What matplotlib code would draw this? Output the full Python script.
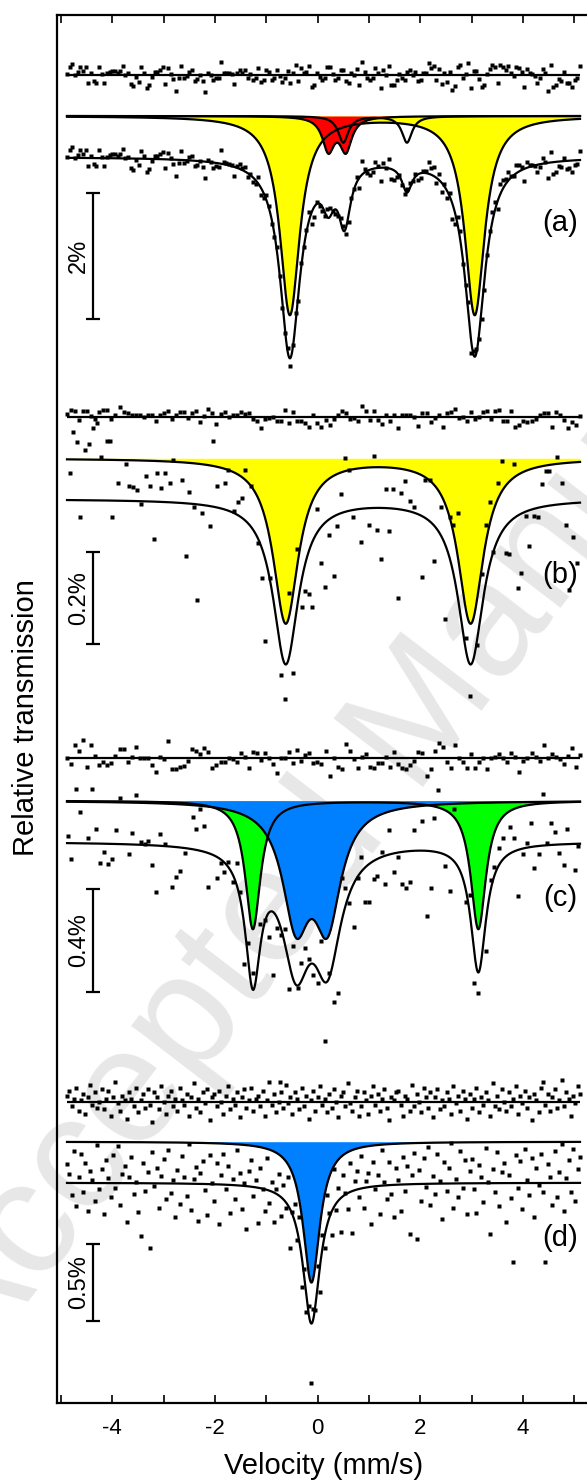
import numpy as np
import matplotlib.pyplot as plt

plt.rcParams['font.family'] = ['Liberation Sans', 'DejaVu Sans']
plt.rcParams['axes.unicode_minus'] = False

# velocity span of the channels (mm/s)
v_lo, v_hi = -4.88, 5.11

# fitted sub-spectra: (centre mm/s, depth %, HWHM mm/s)
a_yellow = [(-0.54, 3.15, 0.235), (3.06, 3.15, 0.235)]
a_red = [(0.21, 0.525, 0.14), (0.55, 0.525, 0.14)]
a_open = [(0.50, 0.42, 0.12), (1.74, 0.42, 0.12)]
b_yellow = [(-0.62, 0.355, 0.30), (2.98, 0.355, 0.30)]
c_green = [(-1.26, 0.50, 0.18), (3.13, 0.50, 0.18)]
c_blue = [(-0.42, 0.44, 0.32), (0.19, 0.44, 0.32)]
d_blue = [(-0.12, 0.915, 0.20)]

bar_pct = [2, 0.2, 0.4, 0.5]
bar_text = ['2%', '0.2%', '0.4%', '0.5%']
tags = ['(a)', '(b)', '(c)', '(d)']

# (a) residuals, units of 0.001 %  (spectrum = fit + residual)
res_a = [16, 132, 175, 0, 53, 122, 69, 132, -122, 37, -95, -132, 122, 16, -122, 26,
         53, 69, 69, 37, 69, 143, 0, 26, -143, -175, -26, -106, 122, 37, -212, -159,
         -26, 53, 53, 79, 122, -143, 106, 16, -69, -254, -53, 148, -53, -16, 53, 79,
         -90, -69, 0, -90, -265, 37, 0, -79, -53, -53, 212, 37, 26, 26, 16, -143,
         37, 79, 26,
         79, -53, 20, -79, -53, 110, -106, -79, 79, 40, -79, -53, 79, -20, -106, -53,
         60, -132, 26, 159, -90, 106, 26, 53, 140, -185, -159, 26, -30, -79, -53, 132,
         132, 10, -79, -53, 79, 79, -100, -132, 26, 0, 90, -159, 212, 53, -40, -79,
         -53, 106, 30, -212, 79, 0, 150, -159, -159, -79, 20, -53, -79, 53, 79, 0,
         53, -90, -79, 37, 26, 185, 106, 143, -79, 90, -143, 37, -106, 53, -238, -175,
         132, 159, -53, 16, 185, -212, 69, 69, -69, -185, -159, 16, 90, 159, 122, -122,
         159, 132, 79, 143, 26, -16, 132, 106, 53, -196, 90, 26, 16, -16, -122, -53,
         90, 26, -249, 159, -185, -159, -69, -90, 53, -122, -122, -185, -79, -53, 143]

# (b) measured points: velocity (mm/s), relative transmission (%)
vel_b = [-4.83, -4.76, -4.69, -4.62, -4.52, -4.45, -4.37, -4.29, -4.21, -4.11,
         -4.05, -4.00, -3.89, -3.74, -3.67, -3.59, -3.52, -3.43, -3.35, -3.27,
         -3.19, -3.12, -3.05, -2.98, -2.87, -2.81, -2.65, -2.57, -2.50, -2.41,
         -2.34, -2.26, -2.10, -2.03, -1.96, -1.81, -1.74, -1.63, -1.55, -1.48,
         -1.41, -1.30, -1.17, -1.09, -1.02, -0.93, -0.71, -0.63, -0.55, -0.48,
         -0.40, -0.31, -0.24, -0.17, -0.10, -0.01, 0.07, 0.15, 0.22, 0.31,
         0.38, 0.45, 0.54, 0.61, 0.69, 0.85, 1.00, 1.09, 1.16, 1.24,
         1.33, 1.40, 1.47, 1.56, 1.63, 1.71, 1.80, 1.87, 2.03, 2.09,
         2.18, 2.26, 2.41, 2.49, 2.57, 2.64, 2.73, 2.89, 2.97, 3.11,
         3.20, 3.27, 3.35, 3.42, 3.51, 3.59, 3.66, 3.73, 3.82, 3.90,
         3.97, 4.05, 4.12, 4.21, 4.29, 4.37, 4.44, 4.51, 4.67, 4.75,
         4.83, 4.90, 4.97, 5.05]
trans_b = [0.056, 0.145, 0.124, -0.038, 0.106, 0.119, 0.153, 0.164, 0.091, 0.126,
           0.125, -0.038, 0.035, 0.076, 0.027, 0.026, 0.019, -0.011, 0.050, 0.028,
           -0.086, 0.056, 0.024, 0.056, 0.035, 0.084, 0.041, -0.123, 0.016, -0.017,
           -0.218, -0.030, -0.058, 0.125, 0.027, 0.035, 0.063, -0.025, -0.006, 0.002,
           0.063, 0.027, -0.094, -0.171, -0.306, -0.171, -0.380, -0.432, -0.202, -0.376,
           -0.108, -0.233, -0.199, -0.205, -0.233, -0.022, -0.138, -0.190, -0.078, -0.166,
           -0.058, 0.011, 0.089, 0.063, -0.038, -0.092, -0.056, 0.093, -0.068, -0.130,
           0.022, -0.069, 0.022, -0.214, 0.014, 0.039, -0.004, -0.017, -0.168, 0.041,
           0.041, -0.133, -0.017, -0.259, -0.038, -0.056, -0.030, -0.300, -0.425, -0.315,
           -0.162, -0.056, -0.006, -0.114, 0.035, 0.081, -0.116, -0.119, 0.076, -0.192,
           -0.160, -0.037, -0.102, -0.037, -0.038, 0.032, 0.060, 0.060, 0.091, 0.035,
           -0.056, -0.197, -0.081, -0.138]
res_b = [7, 16, 14, -6, 14, 14, 3, -4, 11, 16, 16, -4, 4, 23, 11, 9, 4, 4, 4, 0,
         6, 4, -8, 5, 10, 13, -3, 6, 11, 12, -2, 9, 14, -10, 3, 18, 10, -14, 7, 12,
         0, 4, 5, 12, 7, 9, -4, -9, -24, -4, -1, 1, -7, -8, 16, -13, 12, -9, -9, -13,
         -20, 4, -12, -20, -6, -16, -4, 4, 14, 9, -4, -1, -9, 24, 14, -6, 14, -6, -15, 4,
         -8, 4, -24, 4, 6, 4, 1, -18, 9, 9, -11, -1, 5, -22, 9, 11, 19, -1, 1, -8,
         11, -4, 1, 12, 14, -4, 14, 16, -8, -9, 14, -20, -17, -9, -11, -8, -4, 5, 9, 9,
         -22, 12, 4, -6, -24, -11, -17, 3]

# (c) measured points
vel_c = [-4.87, -4.80, -4.70, -4.62, -4.48, -4.40, -4.32, -4.23, -4.15, -4.09,
         -4.01, -3.92, -3.85, -3.68, -3.61, -3.53, -3.44, -3.37, -3.30, -3.22,
         -3.14, -3.06, -2.98, -2.84, -2.76, -2.68, -2.59, -2.43, -2.37, -2.29,
         -2.21, -2.13, -1.96, -1.89, -1.82, -1.74, -1.65, -1.57, -1.51, -1.43,
         -1.35, -1.26, -1.12, -1.02, -0.94, -0.87, -0.79, -0.73, -0.72, -0.63,
         -0.56, -0.47, -0.39, -0.32, -0.24, -0.17, -0.08, 0.00, 0.07, 0.15,
         0.23, 0.31, 0.39, 0.47, 0.54, 0.62, 0.70, 0.78, 0.85, 0.93,
         1.01, 1.09, 1.16, 1.25, 1.32, 1.40, 1.48, 1.56, 1.64, 1.72,
         1.79, 1.87, 2.04, 2.13, 2.20, 2.27, 2.35, 2.49, 2.57, 2.66,
         2.89, 2.97, 3.04, 3.13, 3.28, 3.37, 3.44, 3.54, 3.62, 3.75,
         3.82, 3.91, 4.00, 4.08, 4.15, 4.22, 4.32, 4.39, 4.46, 4.55,
         4.62, 4.70, 4.79, 4.85, 5.01, 5.08]
trans_c = [0.023, -0.067, 0.204, 0.117, 0.014, 0.204, 0.051, -0.084, -0.041, -0.088,
           -0.067, 0.046, 0.169, -0.048, 0.035, 0.181, 0.000, -0.010, 0.003, -0.091,
           -0.197, 0.029, -0.008, -0.175, -0.139, -0.114, -0.045, 0.097, 0.048, 0.126,
           0.061, -0.178, -0.140, -0.084, -0.117, -0.078, -0.156, -0.084, -0.195, -0.478,
           -0.396, -0.510, -0.322, -0.305, -0.370, -0.519, -0.337, -0.937, -0.363, -0.341,
           -0.575, -0.405, -0.569, -0.471, -0.415, -0.458, -0.519, -0.552, -0.387, -0.776,
           -0.510, -0.623, -0.588, -0.140, -0.182, -0.240, -0.333, -0.140, -0.061, -0.234,
           -0.234, -0.146, -0.134, -0.039, -0.165, 0.046, -0.117, -0.058, -0.165, -0.182,
           -0.156, 0.046, 0.081, -0.288, -0.182, 0.093, 0.201, -0.095, -0.191, 0.126,
           -0.234, -0.208, -0.552, -0.588, -0.426, -0.149, -0.097, -0.023, 0.013, 0.058,
           0.013, -0.212, -0.049, -0.006, 0.074, -0.101, -0.049, 0.186, -0.006, 0.074,
           0.039, -0.045, -0.091, 0.048, -0.110, -0.017]
res_c = [0, -22, 52, 29, 71, -35, 52, 10, -26, -13, -26, -19, 10, 36, 36, -16, 6, 45, 0, 0,
         0, -26, -55, 6, -3, 69, -43, -43, -32, -29, -10, 36, 30, 17, 39, 23, -39, -26, -13, -13,
         0, -3, -13, 19, 6, -39, 23, 22, -6, 19, 3, -22, -58, 0, 3, 26, -19, 32, -10, 13,
         19, -19, -16, -22, 30, -68, 3, -35, -42, 55, 30, -3, -39, 4, 17, -35, -39, -19, -19, 4,
         -32, 23, -22, -39, -42, -26, -10, 25, 22, -69, -40, 29, 61, 44, -14, -39, 51, 3, -14, -36,
         16, -36, -14, 0, -43, 0, 6, 16, 0, -14, 22, 6, -52, -10, 3, 22, 6, -10, 51, 0,
         18, 6, -4, -23, 9, 39, -34, 12]

# (d) residuals and scatter of the points about the fit, 0.001 %
res_d = [40, 70, -30, 20, 90, -60, 10, 50, -80, 30, 110, -20, 60, -40, 0, 80,
         -50, 20, 70, -90, 30, 130, -10, -60, 40, 10, -110, 60, 20, -30, 90, -70,
         10, 50, -40, 80, -20, -130, 60, 30, -50, 100, 0, -80, 40, 70, -30, 20,
         -60, 90, 10, -20, 50, -90, 30, 120, -40, 20, -70, 60, -10, 80, -120, 30,
         50, -30, 70, 0, -80, 40, 100, -50, 20, -20, 60, -100, 30, 80, -40, 10,
         90, -60, 20, 40, -30, 70, -90, 10, 130, -20, 50, -70, 0, 60, -40, 110,
         -10, 30, -80, 60, 20, -50, 90, -30, 40, -110, 10, 70, -60, 30, 100, -20,
         20, -70, 50, -40, 80, 0, -100, 40, 60, -30, 120, -10, -60, 30, 70, -90,
         -30, 60, 10, -80, 40, 100, -20, 50, -60, 20, 80, -40, -120, 30, 10, 60,
         70, -20, -90, 40, 20, -60, 110, -30, 50, 0, -70, 90, 30, -40, 60, -100,
         30, 80, -50, 10, -30, 60, 20, -80, 100, -10, 40, -60, 70, 20, -110, 50,
         -40, 20, 90, -70, 30, -20, 60, 10, -90, 120, -30, 40, -50, 80, 0, -60,
         60, -30, 20, 100, -80, 40, -10, 70, -40, 30, -120, 50, 10, -70, 90, 130,
         -20, 50, -60, 30, 80, -40, 10, 140, -30, 60, 20, -90, 40, -10, 100, 50]
dev_d = [120, 60, -80, 210, -150, 40, 190, -60, 130, -180, 80, 20, -120, 250, -40, 90,
         -200, 150, 30, -90, 180, -30, 240, -140, 60, 110, -250, 40, 170, -70, 10, -190,
         -340, 130, -50, 70, -420, 200, -20, 100, -160, 50, 160, -100, 220, -60, 20, -220,
         90, -130, 180, 40, -80, 260, -170, 30, 110, -240, 70, 150, -40, -200, 190, 10,
         -110, 140, -260, 60, 200, -30, 120, -180, 40, -90, 230, 80, -150, 20, -280, 100,
         170, -60, 50, -230, 130, 0, -140, 210, -80, 60, -190, 30, 140, -120, 90, -40,
         180, -250, 20, 110, -60, 160, -200, 40, -110, 50, -390, 70, -30, 120, -170, 90,
         -80, 200, 30, -150, 250, -40, 80, -220, 140, 10, -100, 190, -270, 60, 120, -50,
         210, -130, 40, 90, -240, 160, -20, 70, -180, 230, 20, -90, 150, -60, -210, 110,
         30, -170, 180, -40, 120, -320, 60, 200, -360, 90, -110, 170, -20, 240, -140, 50,
         -70, 190, 20, -230, 140, -50, 100, 260, -160, 30, -90, 210, -30, 150, -200, 80,
         160, -40, -190, 120, 40, -120, 230, 10, -330, 90, -60, 200, -150, 70, 130, -250,
         50, -100, -510, 180, -30, 140, -170, 220, 20, -80, 160, -220, 100, -10, 190, -60,
         -510, 120, 40, -140, 210, -90, 70, 250, -180, 30, 150, -60, 220, -120, 90, 170]


def absorb(v, lines):
    v = np.asarray(v, float)
    out = np.zeros_like(v)
    for c, d, w in lines:
        out += d * w ** 2 / ((v - c) ** 2 + w ** 2)
    return out


fig = plt.figure(figsize=(5.87, 14.84), dpi=100)
ax = fig.add_axes([57 / 587, 81 / 1484, 538 / 587, 1388 / 1484])
ax.set_xlim(-5.075, 5.402)
ax.set_ylim(1403, 15)   # vertical layout in pixel rows

vf = np.linspace(v_lo, v_hi, 1500)
LW = 1.6

# rows: residual line, sub-spectra base, spectrum base, pixels per %
rows = [(75, 116, 157, 63.0),
        (417.3, 458.3, 499, 463.0),
        (758.3, 800.7, 841.7, 256.7),
        (1101.7, 1141.7, 1182.7, 154.0)]
bar_top = [193, 551.7, 889, 1244]
tag_y = [223, 575, 898, 1238]


def dots(x, y):
    ax.plot(x, y, ls='none', marker='s', ms=2.2, mfc='k', mec='none', zorder=4)


def sub(lines, base, k, color):
    y = base + absorb(vf, lines) * k
    if color:
        ax.fill_between(vf, base, y, color=color, lw=0, zorder=1)
    ax.plot(vf, y, color='k', lw=LW, zorder=3)


def resid(row, values):
    r, _, _, k = row
    v = np.linspace(v_lo, v_hi, len(values))
    ax.hlines(r, v_lo, v_hi, color='k', lw=LW, zorder=3)
    dots(v, r - np.array(values) / 1000 * k)


# (a)
r, cb, db, k = rows[0]
resid(rows[0], res_a)
sub(a_yellow, cb, k, '#ffff00')
sub(a_red, cb, k, '#ff0000')
sub(a_open, cb, k, None)
all_a = a_yellow + a_red + a_open
va = np.linspace(v_lo, v_hi, len(res_a))
dots(va, db + (absorb(va, all_a) - np.array(res_a) / 1000) * k)
ax.plot(vf, db + absorb(vf, all_a) * k, color='k', lw=LW, zorder=3)

# (b)
r, cb, db, k = rows[1]
resid(rows[1], res_b)
sub(b_yellow, cb, k, '#ffff00')
dots(vel_b, db - np.array(trans_b) * k)
ax.plot(vf, db + absorb(vf, b_yellow) * k, color='k', lw=LW, zorder=3)

# (c)
r, cb, db, k = rows[2]
resid(rows[2], res_c)
sub(c_green, cb, k, '#00ff00')
sub(c_blue, cb, k, '#0080ff')
dots(vel_c, db - np.array(trans_c) * k)
ax.plot(vf, db + absorb(vf, c_green + c_blue) * k, color='k', lw=LW, zorder=3)

# (d)
r, cb, db, k = rows[3]
resid(rows[3], res_d)
sub(d_blue, cb, k, '#0080ff')
vd = np.linspace(v_lo, v_hi, len(dev_d))
dots(vd, db + (absorb(vd, d_blue) - np.array(dev_d) / 1000) * k)
ax.plot(vf, db + absorb(vf, d_blue) * k, color='k', lw=LW, zorder=3)

# scale bars and panel tags
for i in range(4):
    h = bar_pct[i] * rows[i][3]
    ax.errorbar(-4.366, bar_top[i] + h / 2, yerr=h / 2, fmt='none', ecolor='k',
                elinewidth=1.6, capsize=5, capthick=1.6, zorder=3)
    ax.text(-4.652, bar_top[i] + h / 2, bar_text[i], rotation=90, ha='center',
            va='center', fontsize=17)
    ax.text(4.72, tag_y[i], tags[i], ha='center', va='center', fontsize=21)

ticks = list(range(-5, 6))
ax.set_xticks(ticks)
ax.set_xticklabels(['' if t % 2 else str(t) for t in ticks])
ax.tick_params(axis='x', direction='in', length=5.8, width=1.2, top=True,
               bottom=True, labelsize=16, pad=10.5)
ax.tick_params(axis='y', left=False, labelleft=False)
for s in ['left', 'top', 'bottom']:
    ax.spines[s].set_linewidth(1.6)
ax.spines['right'].set_visible(False)

ax.set_xlabel('Velocity (mm/s)', fontsize=21, va='center')
ax.xaxis.set_label_coords(0.496, -0.0454)
ax.set_ylabel('Relative transmission', fontsize=21, va='center')
ax.yaxis.set_label_coords(-0.0576, 0.494)

# faint watermark across the page
ax.text(-28 / 587, 1 - 1375 / 1484, 'Accepted Manuscript', transform=fig.transFigure,
        rotation=52.5, rotation_mode='anchor', ha='left', va='baseline',
        fontsize=118, color='#e7e7e7', zorder=0.5, clip_on=False)

fig.savefig('out.png', dpi=100)
